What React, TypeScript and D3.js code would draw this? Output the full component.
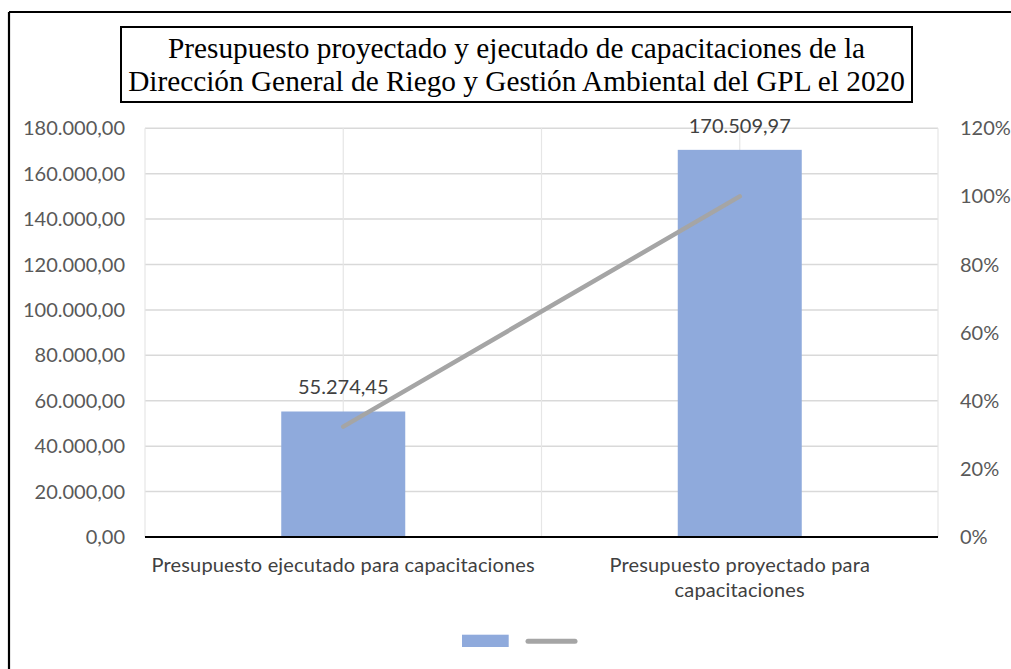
import React from "react";
import * as d3 from "d3";

const categories = [
  ["Presupuesto ejecutado para capacitaciones"],
  ["Presupuesto proyectado para", "capacitaciones"],
];
const barValues = [55274.45, 170509.97];
const lineValues = [0.3242, 1.0];
const leftTicks = [0, 20000, 40000, 60000, 80000, 100000, 120000, 140000, 160000, 180000];
const rightTicks = [0, 0.2, 0.4, 0.6, 0.8, 1.0, 1.2];
const titleLines = [
  "Presupuesto proyectado y ejecutado de capacitaciones de la",
  "Dirección General de Riego y Gestión Ambiental del GPL el 2020",
];

const W = 1011;
const H = 669;
const left = 145;
const right = 938;
const top = 128.3;
const bottom = 537;

const fmtNum = (v: number) => {
  const [i, d] = v.toFixed(2).split(".");
  const withDots = i.replace(/\B(?=(\d{3})+(?!\d))/g, ".");
  return withDots + "," + d;
};

export default function App() {
  const x = d3.scaleBand<number>().domain(d3.range(categories.length)).range([left, right]).paddingInner(0).paddingOuter(0);
  const yL = d3.scaleLinear().domain([0, 180000]).range([bottom, top]);
  const yR = d3.scaleLinear().domain([0, 1.2]).range([bottom, top]);
  const bw = 124;
  const cx = (i: number) => (x(i) as number) + x.bandwidth() / 2;
  const line = d3
    .line<number>()
    .x((_, i) => cx(i))
    .y((d) => yR(d));

  const font = "Lato, 'Open Sans', sans-serif";
  const vGrid: number[] = [];
  categories.forEach((_, i) => {
    vGrid.push(x(i) as number);
    vGrid.push(cx(i));
  });
  vGrid.push(right);

  return (
    <svg width={W} height={H} style={{ position: "absolute", left: 0, top: 0, background: "#fff" }}>
      <rect x={0} y={0} width={W} height={H} fill="#fff" />
      {/* outer border: top and left visible */}
      <line x1={9} y1={12} x2={W} y2={12} stroke="#000" strokeWidth={2.2} />
      <line x1={9} y1={12} x2={9} y2={H} stroke="#000" strokeWidth={2.2} />

      {/* title box */}
      <rect x={121} y={27} width={791} height={75} fill="#fff" stroke="#000" strokeWidth={2} />
      {titleLines.map((t, i) => (
        <text
          key={i}
          x={516.5}
          y={58 + i * 33}
          textAnchor="middle"
          fontFamily="'Liberation Serif', 'Times New Roman', serif"
          fontSize={29.3}
          fill="#000"
        >
          {t}
        </text>
      ))}

      {/* horizontal gridlines */}
      {leftTicks.map((t) => (
        <line key={"h" + t} x1={left} x2={right} y1={yL(t)} y2={yL(t)} stroke="#d9d9d9" strokeWidth={1.5} />
      ))}
      {/* vertical gridlines */}
      {vGrid.map((v, i) => (
        <line key={"v" + i} x1={v} x2={v} y1={top} y2={bottom} stroke="#e6e6e6" strokeWidth={1.2} />
      ))}

      {/* bars */}
      {barValues.map((v, i) => (
        <rect key={"b" + i} x={cx(i) - bw / 2} y={yL(v)} width={bw} height={bottom - yL(v)} fill="#8FAADC" />
      ))}

      {/* x axis */}
      <line x1={left} x2={right} y1={bottom} y2={bottom} stroke="#000" strokeWidth={2} />

      {/* line series */}
      <path d={line(lineValues) || ""} fill="none" stroke="#A5A5A5" strokeWidth={4.5} strokeLinecap="round" />

      {/* data labels */}
      {barValues.map((v, i) => (
        <text key={"dl" + i} x={cx(i)} y={yL(v) - 17} textAnchor="middle" fontFamily={font} fontSize={20} fill="#404040">
          {fmtNum(v)}
        </text>
      ))}

      {/* left axis labels */}
      {leftTicks.map((t) => (
        <text key={"l" + t} x={125} y={yL(t)} dy="0.35em" textAnchor="end" fontFamily={font} fontSize={20} fill="#595959">
          {fmtNum(t)}
        </text>
      ))}
      {/* right axis labels */}
      {rightTicks.map((t) => (
        <text key={"r" + t} x={960} y={yR(t)} dy="0.35em" textAnchor="start" fontFamily={font} fontSize={20} fill="#595959">
          {Math.round(t * 100) + "%"}
        </text>
      ))}

      {/* category labels */}
      {categories.map((lines, i) =>
        lines.map((l, j) => (
          <text key={"c" + i + j} x={cx(i)} y={572 + j * 25} textAnchor="middle" fontFamily={font} fontSize={20} letterSpacing={0.15} fill="#404040">
            {l}
          </text>
        ))
      )}

      {/* legend */}
      <rect x={462} y={634.7} width={46.7} height={12.3} fill="#8FAADC" />
      <line x1={528} x2={575} y1={641.3} y2={641.3} stroke="#A5A5A5" strokeWidth={5} strokeLinecap="round" />
    </svg>
  );
}
